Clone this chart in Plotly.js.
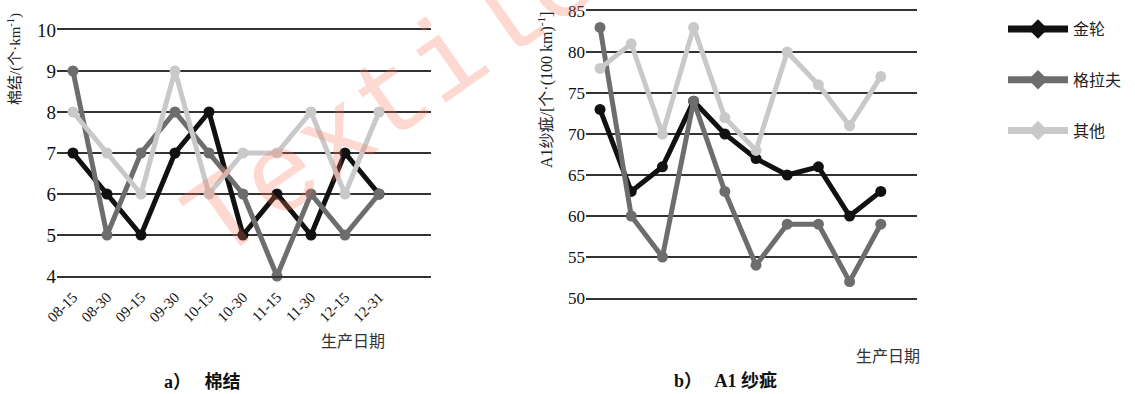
<!DOCTYPE html>
<html>
<head>
<meta charset="utf-8">
<script src="https://cdn.plot.ly/plotly-3.0.1.min.js"></script>
<style>html,body{margin:0;padding:0;background:#fff;}#chart{width:1135px;height:394px;}</style>
</head>
<body>
<div id="chart"></div>
<script>
// ---- data ----
const dates = ["08-15","08-30","09-15","09-30","10-15","10-30","11-15","11-30","12-15","12-31"];
const seriesNames = ["金轮","格拉夫","其他"];
// a) 棉结 (个·km^-1)
const neps_jinlun = [7, 6, 5, 7, 8, 5, 6, 5, 7, 6];
const neps_gelafu = [9, 5, 7, 8, 7, 6, 4, 6, 5, 6];
const neps_other  = [8, 7, 6, 9, 6, 7, 7, 8, 6, 8];
// b) A1 纱疵 (个·(100 km)^-1)
const a1_jinlun = [73, 63, 66, 74, 70, 67, 65, 66, 60, 63];
const a1_gelafu = [83, 60, 55, 74, 63, 54, 59, 59, 52, 59];
const a1_other  = [78, 81, 70, 83, 72, 68, 80, 76, 71, 77];
const tickIdx = [0,1,2,3,4,5,6,7,8,9];

const colors = ["#111111", "#6d6d6d", "#c9c9c9"];
const W = 1135, H = 394;
const px = v => v / W;
const py = v => 1 - v / H;
const SERIF = "'Liberation Serif', 'Times New Roman', serif";
const FONT = "'Liberation Serif', 'Noto Sans CJK SC', serif";
const CJK = "'Noto Sans CJK SC', sans-serif";

function line(x, y, i, xa, ya) {
  return {
    x: x, y: y, xaxis: xa, yaxis: ya, type: "scatter", mode: "lines+markers",
    name: seriesNames[i], showlegend: false, cliponaxis: false,
    line: {color: colors[i], width: 5},
    marker: {color: colors[i], size: 11, symbol: "circle"},
    hoverinfo: "skip"
  };
}
function legendItem(i) {
  return {
    x: [null], y: [null], xaxis: "x", yaxis: "y", type: "scatter", mode: "lines+markers",
    name: seriesNames[i], showlegend: true, legendgroup: "g" + i,
    line: {color: colors[i], width: 7},
    marker: {color: colors[i], size: 15, symbol: "diamond"}
  };
}

const data = [
  line(dates, neps_jinlun, 0, "x", "y"),
  line(dates, neps_gelafu, 1, "x", "y"),
  line(dates, neps_other, 2, "x", "y"),
  line(dates, a1_jinlun, 0, "x2", "y2"),
  line(dates, a1_gelafu, 1, "x2", "y2"),
  line(dates, a1_other, 2, "x2", "y2"),
  legendItem(0), legendItem(1), legendItem(2)
];

const gridStyle = {showgrid: true, gridcolor: "#333333", gridwidth: 1.6, zeroline: false, showline: false, ticks: ""};

const layout = {
  width: W, height: H,
  margin: {l: 0, r: 0, t: 0, b: 0, pad: 0},
  paper_bgcolor: "#ffffff", plot_bgcolor: "rgba(0,0,0,0)",
  font: {family: FONT, color: "#1a1a1a"},
  showlegend: true,
  legend: {
    x: px(1003), y: py(12), xanchor: "left", yanchor: "top",
    font: {family: CJK, size: 16, color: "#222"},
    itemwidth: 60, tracegroupgap: 27, traceorder: "grouped",
    bgcolor: "rgba(0,0,0,0)"
  },
  xaxis: {
    domain: [px(57), px(431)], anchor: "y", type: "category",
    categoryorder: "array", categoryarray: dates,
    range: [-0.47, 10.53], showgrid: false, zeroline: false, ticks: "",
    showline: true, mirror: true, linecolor: "#333333", linewidth: 1.6,
    tickangle: -45, tickfont: {family: SERIF, size: 15, color: "#111"}, ticklabelstandoff: 5
  },
  yaxis: Object.assign({
    domain: [py(276), py(30)], anchor: "x", range: [4, 10], dtick: 1, tick0: 0,
    tickfont: {family: SERIF, size: 19, color: "#111"}
  }, gridStyle),
  xaxis2: {
    domain: [px(586), px(917)], anchor: "y2", type: "category",
    categoryorder: "array", categoryarray: dates,
    range: [-0.45, 10.16], showgrid: false, zeroline: false, ticks: "",
    showline: true, mirror: true, linecolor: "#333333", linewidth: 1.6,
    showticklabels: false
  },
  xaxis3: {
    overlaying: "x2", anchor: "y2", type: "linear",
    range: [-0.592, 9.201], tickmode: "array", tickvals: tickIdx, ticktext: dates,
    showgrid: false, zeroline: false, showline: false, ticks: "",
    tickangle: -45, tickfont: {family: SERIF, size: 15, color: "#111"}, ticklabelstandoff: 4
  },
  yaxis2: Object.assign({
    domain: [py(298), py(11)], anchor: "x2", range: [50, 85], dtick: 5, tick0: 0,
    tickfont: {family: SERIF, size: 17, color: "#111"}
  }, gridStyle),
  annotations: [
    {xref: "paper", yref: "paper", x: px(15), y: py(59), text: "棉结/(个·km<sup>-1</sup>)",
     textangle: -90, showarrow: false, xanchor: "center", yanchor: "middle",
     font: {family: FONT, size: 15, color: "#222"}},
    {xref: "paper", yref: "paper", x: px(545), y: py(90), text: "A1纱疵/[个·(100 km)<sup>-1</sup>]",
     textangle: -90, showarrow: false, xanchor: "center", yanchor: "middle",
     font: {family: FONT, size: 16, color: "#222"}},
    {xref: "paper", yref: "paper", x: px(353), y: py(340), text: "生产日期",
     showarrow: false, xanchor: "center", yanchor: "middle",
     font: {family: CJK, size: 16, color: "#333"}},
    {xref: "paper", yref: "paper", x: px(888), y: py(355), text: "生产日期",
     showarrow: false, xanchor: "center", yanchor: "middle",
     font: {family: CJK, size: 16, color: "#333"}},
    {xref: "paper", yref: "paper", x: px(202), y: py(382), text: "<b>a）   棉结</b>",
     showarrow: false, xanchor: "center", yanchor: "middle",
     font: {family: FONT, size: 18, color: "#111"}},
    {xref: "paper", yref: "paper", x: px(725), y: py(381), text: "<b>b）   A1 纱疵</b>",
     showarrow: false, xanchor: "center", yanchor: "middle",
     font: {family: FONT, size: 18, color: "#111"}},
    {xref: "paper", yref: "paper", x: px(394), y: py(102), text: "Textile",
     textangle: -35, showarrow: false, xanchor: "center", yanchor: "middle",
     font: {family: "'Liberation Mono', monospace", size: 113, color: "rgba(248,120,90,0.28)"}}
  ]
};

Plotly.newPlot("chart", data, layout, {staticPlot: true, displayModeBar: false});
</script>
</body>
</html>
